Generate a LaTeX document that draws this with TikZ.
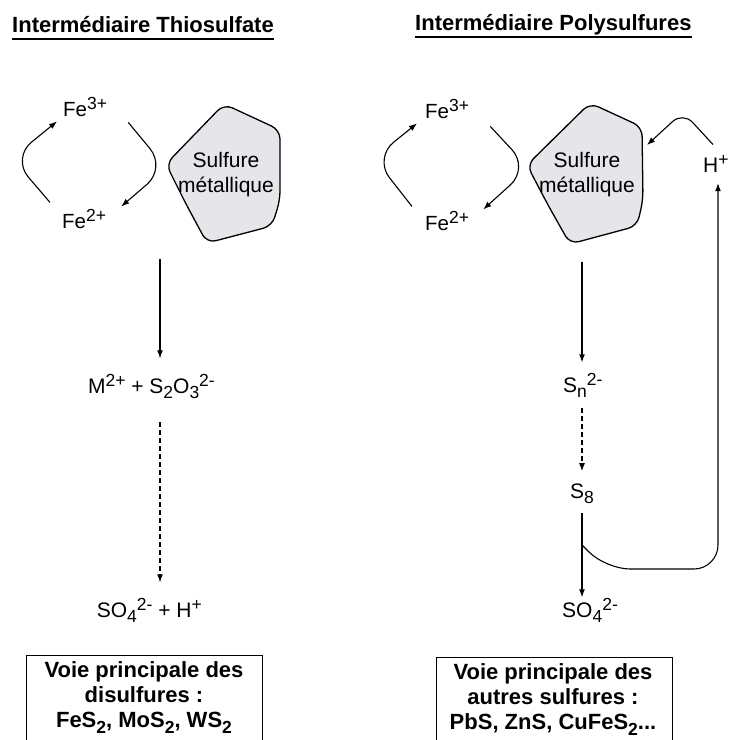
\documentclass[tikz,border=0pt]{standalone}
\usepackage{fontspec}
\setmainfont{Liberation Sans}
\usetikzlibrary{arrows.meta}

\definecolor{blobfill}{RGB}{229,229,234}
% raised and lowered charges / indices
\newcommand{\chup}[1]{\raisebox{0.3em}{\fontsize{17.5}{17.5}\selectfont #1}}
\newcommand{\chdn}[1]{\raisebox{-0.28em}{\fontsize{17.5}{17.5}\selectfont #1}}

\begin{document}
\begin{tikzpicture}[
    x=1pt, y=-1pt,
    >={Latex[length=8pt,width=6pt]}, % Set default arrow tip style
    heading/.style={inner sep=0pt, font=\bfseries\fontsize{22}{26}\selectfont},
    ion/.style={inner sep=0pt, font=\fontsize{20.5}{24}\selectfont},
    chem/.style={inner sep=0pt, font=\fontsize{21}{25}\selectfont},
    blob/.style={draw, line width=1.3pt, fill=blobfill, rounded corners=9pt},
    link/.style={->, line width=1.1pt},
    sumbox/.style={draw, line width=1.2pt, minimum width=236pt, minimum height=110pt, inner sep=0pt},
    sumtext/.style={inner sep=0pt, align=center, font=\bfseries\fontsize{22}{25}\selectfont}
]

    \useasboundingbox (0,0) rectangle (731,740);

    % Headings
    \node[heading, anchor=base west] (headT) at (12,32) {Intermédiaire Thiosulfate};
    \node[heading, anchor=base west] (headP) at (415,30) {Intermédiaire Polysulfures};
    \draw[line width=2.2pt] ([yshift=-7pt]headT.base west) -- ([yshift=-7pt]headT.base east);
    \draw[line width=2.2pt] ([yshift=-7pt]headP.base west) -- ([yshift=-7pt]headP.base east);

    % Thiosulfate: iron cycle and sulfide
    \node[ion, anchor=base west] (fe3L) at (63,116) {Fe\chup{3+}};
    \node[ion, anchor=base west] (fe2L) at (62,228) {Fe\chup{2+}};
    \draw[link, rounded corners=25pt] ([xshift=-12pt,yshift=7pt]fe2L.north west) -- (12,158) -- ([xshift=-6pt,yshift=-5pt]fe3L.south west);
    \draw[link, rounded corners=25pt] ([xshift=21pt,yshift=-6pt]fe3L.south east) -- (166,168) -- ([xshift=15pt,yshift=3pt]fe2L.north east);
    \draw[blob] (186,204) -- (166,164) -- (224,104) -- (280,130) -- (280,200) -- (272,226) -- (207,243) -- cycle;
    \node[chem, align=center] (sulfL) at (226,175) {Sulfure\\métallique};

    % Thiosulfate: products
    \coordinate (srcL) at (160,259);
    \node[chem, anchor=base east] (mixL) at (215,393) {M\chup{2+} + S\chdn{2}O\chdn{3}\chup{2-}};
    \node[chem, anchor=base east] (so4L) at (202,617) {SO\chdn{4}\chup{2-} + H\chup{+}};
    \draw[link, shorten >=16pt] (srcL) -- (srcL |- mixL.north);
    \draw[link, dashed, dash pattern=on 5pt off 3pt, shorten <=23pt, shorten >=16pt] (srcL |- mixL.south) -- (srcL |- so4L.north);

    % Polysulfures: iron cycle and sulfide
    \node[ion, anchor=base west] (fe3R) at (425,118) {Fe\chup{3+}};
    \node[ion, anchor=base west] (fe2R) at (425,230) {Fe\chup{2+}};
    \draw[link, rounded corners=25pt] ([xshift=-13pt,yshift=5pt]fe2R.north west) -- (374,158) -- ([xshift=-8pt,yshift=-5pt]fe3R.south west);
    \draw[link, rounded corners=25pt] ([xshift=21pt,yshift=-8pt]fe3R.south east) -- (529,168) -- ([xshift=14pt,yshift=2pt]fe2R.north east);
    \draw[blob] (548,205) -- (527,165) -- (590,103) -- (642,127) -- (643,200) -- (637,226) -- (570,244) -- cycle;
    \node[chem, align=center] (sulfR) at (587,175) {Sulfure\\métallique};
    \node[chem, anchor=base west] (hR) at (703,172) {H\chup{+}};
    \draw[link, rounded corners=14pt] ([xshift=-3pt,yshift=11pt]hR.north) -- (683,112) -- (647,145);

    % Polysulfures: products
    \coordinate (srcR) at (582,262);
    \node[chem, anchor=base west] (snR) at (563,392) {S\chdn{n}\chup{2-}};
    \node[chem, anchor=base west] (s8R) at (570,498) {S\chdn{8}};
    \node[chem, anchor=base west] (so4R) at (562,617) {SO\chdn{4}\chup{2-}};
    \draw[link, shorten >=11pt] (srcR) -- (srcR |- snR.north);
    \draw[link, dashed, dash pattern=on 5pt off 3pt, shorten <=10pt, shorten >=12pt] (srcR |- snR.south) -- (srcR |- s8R.north);
    \draw[link, shorten <=9pt, shorten >=1pt] (srcR |- s8R.south) -- (srcR |- so4R.north);

    % Feedback of protons
    \coordinate (fbk) at (582,545);
    \coordinate (fbc) at (718,569);
    \draw[link, rounded corners=24pt, shorten >=11pt] (fbk) -- (606,569) -- (fbc) -- (fbc |- hR.south);

    % Summary boxes
    \node[sumbox, anchor=north west] (boxL) at (26,655) {};
    \node[sumtext, anchor=north] (txtL) at (144,661) {Voie principale des\\disulfures :\\FeS\chdn{2}, MoS\chdn{2}, WS\chdn{2}};
    \node[sumbox, anchor=north west] (boxR) at (436,657) {};
    \node[sumtext, anchor=north] (txtR) at (553,663) {Voie principale des\\autres sulfures :\\PbS, ZnS, CuFeS\chdn{2}...};

\end{tikzpicture}
\end{document}
